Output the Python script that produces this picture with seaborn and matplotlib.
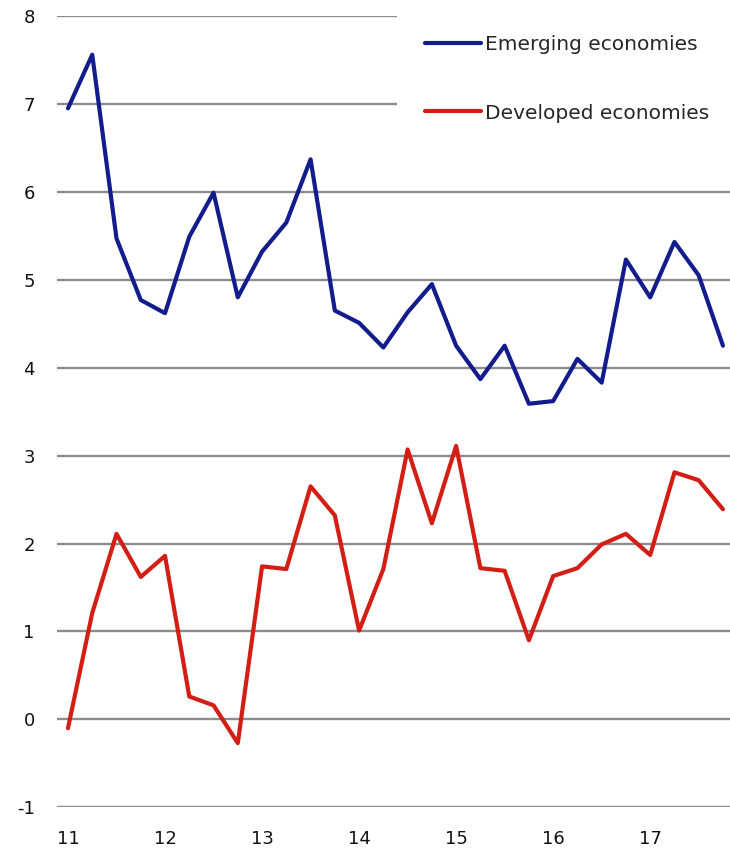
import numpy as np
import pandas as pd
import matplotlib
matplotlib.use("Agg")
import matplotlib.pyplot as plt
import seaborn as sns

quarters = [f"{y}Q{q}" for y in range(11, 18) for q in range(1, 5)]
emerging = [6.95, 7.56, 5.47, 4.77, 4.62, 5.49, 5.99, 4.80, 5.32, 5.65, 6.37, 4.65,
            4.51, 4.23, 4.63, 4.95, 4.25, 3.87, 4.25, 3.59, 3.62, 4.10, 3.83, 5.23,
            4.80, 5.43, 5.05, 4.25]
developed = [-0.10, 1.21, 2.11, 1.62, 1.86, 0.26, 0.16, -0.27, 1.74, 1.71, 2.65, 2.32,
             1.01, 1.71, 3.07, 2.23, 3.11, 1.72, 1.69, 0.90, 1.63, 1.72, 1.99, 2.11,
             1.87, 2.81, 2.72, 2.39]
year_labels = ["11", "12", "13", "14", "15", "16", "17"]
y_ticks = [-1, 0, 1, 2, 3, 4, 5, 6, 7, 8]

sns.set_style("white")
plt.rcParams["font.family"] = ["DejaVu Sans"]

df = pd.DataFrame({"t": np.arange(len(quarters)), "quarter": quarters,
                   "Emerging economies": emerging, "Developed economies": developed})

fig = plt.figure(figsize=(7.3, 8.48), dpi=100)
ax = fig.add_axes([57/730, 1 - 807.3/848, 1 - 57/730, (807.3 - 16)/848])

sns.lineplot(data=df, x="t", y="Emerging economies", color="#131c8c", linewidth=3,
             label="Emerging economies", ax=ax, zorder=3)
sns.lineplot(data=df, x="t", y="Developed economies", color="#d21e14", linewidth=3,
             label="Developed economies", ax=ax, zorder=3)

ax.set_xlim(-0.453, 27.29)
ax.set_ylim(-1, 8)
ax.set_yticks(y_ticks)
ax.set_yticklabels([str(v) for v in y_ticks])
ax.set_xticks(np.arange(0, len(quarters), 4))
ax.set_xticklabels(year_labels)
ax.set_xlabel("")
ax.set_ylabel("")
for s in ax.spines.values():
    s.set_visible(False)
ax.grid(axis="y", color="#8c8c8c", linewidth=1.7)
ax.grid(axis="x", visible=False)
ax.set_axisbelow(True)
ax.tick_params(axis="y", length=0, pad=16, labelsize=13, colors="#111111")
ax.tick_params(axis="x", length=0, pad=16.5, labelsize=13, colors="#111111")

leg_h = 150 / 848
leg = ax.legend(loc="upper left",
                bbox_to_anchor=(397/730, 1 - 7/848 - leg_h, 345/730, leg_h),
                bbox_transform=fig.transFigure, mode="expand", borderaxespad=0,
                frameon=True, facecolor="white", edgecolor="none", framealpha=1,
                fancybox=False, fontsize=14.5, handlelength=2.75, handletextpad=0.2,
                labelspacing=2.45, borderpad=1.4)
leg.set_zorder(5)

fig.savefig("out.png", dpi=100)
